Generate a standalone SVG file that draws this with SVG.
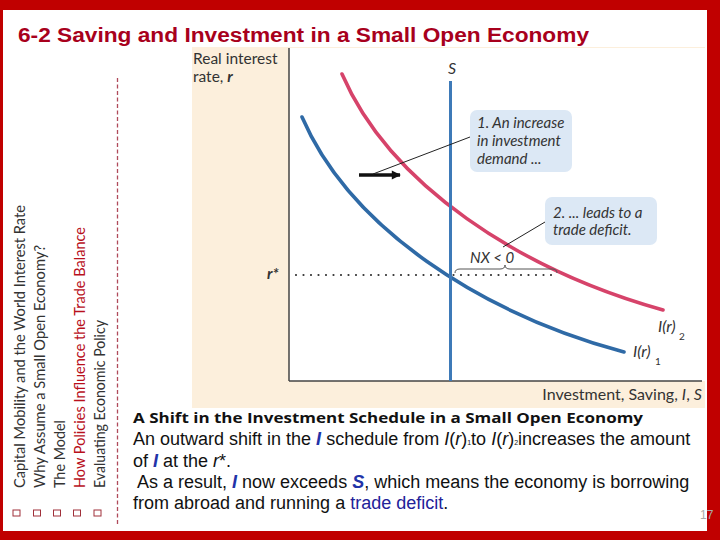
<svg xmlns="http://www.w3.org/2000/svg" width="720" height="540" viewBox="0 0 720 540">
<style>
.side{font-family:Lato,"Open Sans","DejaVu Sans",sans-serif;font-size:14.5px;fill:#333;}
.lab{font-family:Lato,"Open Sans","DejaVu Sans",sans-serif;fill:#333;}
.it{font-style:italic;}
.call{font-family:Lato,"Open Sans","DejaVu Sans",sans-serif;font-style:italic;font-size:15px;fill:#333;}
.body{font-family:"Liberation Sans",Arial,sans-serif;font-size:18px;fill:#111;}
.bi{font-weight:bold;font-style:italic;fill:#2233a8;}
.box{fill:none;stroke:#a0303a;stroke-width:1;}
.bubble{fill:#dce8f5;}
.leader{stroke:#222;stroke-width:1;fill:none;}
</style>
<defs>
<marker id="ah" viewBox="0 0 10 10" refX="9" refY="5" markerWidth="3.2" markerHeight="2.6" orient="auto" markerUnits="strokeWidth">
<path d="M0,0 L10,5 L0,10 Z" fill="#111"/>
</marker>
</defs>
<!-- frame -->
<rect x="0" y="0" width="720" height="540" fill="#c00000"/>
<rect x="3" y="10" width="704" height="521" fill="#ffffff"/>
<!-- title -->
<text x="18" y="42" font-family="'Liberation Sans',Arial,sans-serif" font-weight="bold" font-size="20" fill="#a8001c" textLength="571" lengthAdjust="spacingAndGlyphs">6-2 Saving and Investment in a Small Open Economy</text>
<!-- side menu -->
<g id="side-menu">
<text class="side" transform="translate(25,488) rotate(-90)" textLength="283" lengthAdjust="spacingAndGlyphs">Capital Mobility and the World Interest Rate</text>
<text class="side" transform="translate(45,488) rotate(-90)" textLength="243" lengthAdjust="spacingAndGlyphs">Why Assume a Small Open Economy?</text>
<text class="side" transform="translate(65,488) rotate(-90)" textLength="68" lengthAdjust="spacingAndGlyphs">The Model</text>
<text class="side" transform="translate(85,488) rotate(-90)" textLength="261" lengthAdjust="spacingAndGlyphs" style="fill:#b8101c">How Policies Influence the Trade Balance</text>
<text class="side" transform="translate(105,488) rotate(-90)" textLength="168" lengthAdjust="spacingAndGlyphs">Evaluating Economic Policy</text>
<rect class="box" x="13" y="510" width="7" height="6"/>
<rect class="box" x="33.5" y="510" width="7" height="6"/>
<rect class="box" x="53.5" y="510" width="7" height="6"/>
<rect class="box" x="73.5" y="510" width="7" height="6"/>
<rect class="box" x="94" y="510" width="7" height="6"/>
<line x1="117.5" y1="78" x2="117.5" y2="525" stroke="#b04a5a" stroke-width="1.3" stroke-dasharray="4 2.5"/>
</g>
<!-- chart panel -->
<g id="chart">
<rect x="192" y="47" width="513" height="361" fill="#fcefdc"/>
<rect x="289" y="48" width="416" height="333" fill="#ffffff"/>
<line x1="289" y1="48" x2="289" y2="381" stroke="#444" stroke-width="1.5"/>
<line x1="289" y1="381" x2="702" y2="381" stroke="#444" stroke-width="1.5"/>
<text class="lab" x="193" y="64" font-size="15.5">Real interest</text>
<text class="lab" x="193" y="82" font-size="15.5">rate, <tspan class="it" font-weight="bold">r</tspan></text>
<text class="lab" x="702" y="400" font-size="16" text-anchor="end">Investment, Saving, <tspan class="it">I</tspan>, <tspan class="it">S</tspan></text>
<text class="lab it" x="267" y="279" font-size="15.5" font-weight="bold">r*</text>
<!-- dotted r* line -->
<line x1="296" y1="275" x2="558" y2="275" stroke="#333" stroke-width="2.2" stroke-linecap="round" stroke-dasharray="0 7.5"/>
<!-- curves -->
<path id="I2" d="M342,74 C390,185 520,270 663,310" fill="none" stroke="#d6436a" stroke-width="3.6" stroke-linecap="round"/>
<path id="I1" d="M302,117 C350,228 480,313 624,352" fill="none" stroke="#2f6aa6" stroke-width="3.6" stroke-linecap="round"/>
<line id="S" x1="450.5" y1="81" x2="450.5" y2="381" stroke="#3e7ab8" stroke-width="3"/>
<text class="lab it" x="452" y="74" font-size="16" text-anchor="middle">S</text>
<text class="lab it" x="658" y="332" font-size="16">I(r)</text>
<text class="lab" x="679" y="340" font-size="10">2</text>
<text class="lab it" x="633" y="357" font-size="16">I(r)</text>
<text class="lab" x="655" y="365" font-size="10">1</text>
<!-- NX brace -->
<path d="M455,273 q0,-4 5,-4 L500,269 q5,0 5,-4 q0,4 5,4 L552,269 q5,0 5,4" fill="none" stroke="#555" stroke-width="1"/>
<text class="lab it" x="470" y="263" font-size="15">NX &lt; 0</text>
</g>
<g id="connectors">
<line x1="359" y1="175" x2="400" y2="175" stroke="#111" stroke-width="3.5" marker-end="url(#ah)"/>
<line class="leader" x1="373" y1="174" x2="470" y2="137"/>
<line class="leader" x1="545" y1="222" x2="503" y2="247"/>
</g>
<g id="callout1">
<rect class="bubble" x="470" y="110" width="102" height="62" rx="7"/>
<text class="call" x="477" y="128">1. An increase</text>
<text class="call" x="477" y="146">in investment</text>
<text class="call" x="477" y="164">demand ...</text>
</g>
<g id="callout2">
<rect class="bubble" x="545" y="197" width="112" height="48" rx="7"/>
<text class="call" x="553" y="218">2. ... leads to a</text>
<text class="call" x="553" y="235">trade deficit.</text>
</g>
<!-- caption -->
<g id="caption">
<text x="133" y="423" font-family="'Open Sans',Lato,sans-serif" font-weight="bold" font-size="14" fill="#111" textLength="510" lengthAdjust="spacingAndGlyphs">A Shift in the Investment Schedule in a Small Open Economy</text>
<text class="body" x="133" y="445">An outward shift in the <tspan class="bi">I</tspan> schedule from <tspan font-style="italic">I</tspan>(<tspan font-style="italic">r</tspan>)<tspan font-size="7">1</tspan>to <tspan font-style="italic">I</tspan>(<tspan font-style="italic">r</tspan>)<tspan font-size="7">2</tspan>increases the amount</text>
<text class="body" x="133" y="467">of <tspan class="bi">I</tspan> at the <tspan font-style="italic">r</tspan>*.</text>
<text class="body" x="133" y="488" xml:space="preserve"> As a result, <tspan class="bi">I</tspan> now exceeds <tspan class="bi">S</tspan>, which means the economy is borrowing</text>
<text class="body" x="133" y="509">from abroad and running a <tspan fill="#222299">trade deficit</tspan>.</text>
<text x="700" y="519" font-family="'Liberation Sans',Arial,sans-serif" font-size="12" fill="#aaa">17</text>
</g>
</svg>
